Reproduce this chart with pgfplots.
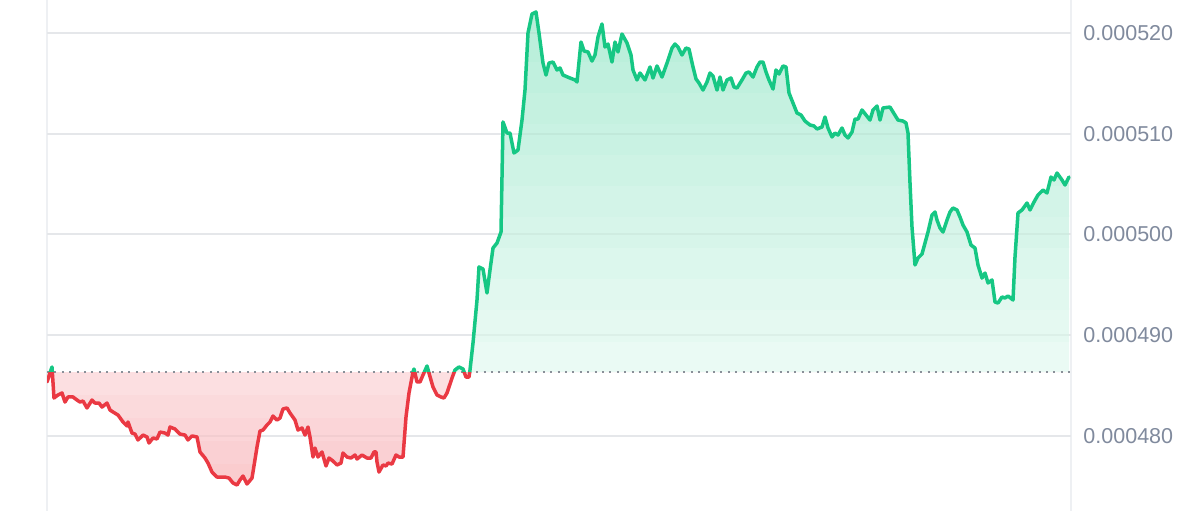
\documentclass[border=0pt]{standalone}
\usepackage{fontspec}
\setmainfont{Liberation Sans}
\usepackage{pgfplots}
\usepackage{pgfplotstable}
\pgfplotsset{compat=1.18}
\definecolor{cmcgreen}{HTML}{16C784}
\definecolor{cmcred}{HTML}{EA3943}
\definecolor{gridgray}{HTML}{EEF0F3}
\definecolor{labelgray}{HTML}{808A9D}
\definecolor{dotgray}{HTML}{8A9099}

\pgfplotstableread{
x y
0 485.35
5 486.84
7 483.76
11 484.06
15 484.26
18 483.36
21 483.86
26 483.86
30 483.56
33 483.36
36 483.46
40 482.77
45 483.56
48 483.26
52 483.26
55 482.86
60 483.26
63 482.57
66 482.37
71 482.07
76 481.38
80 480.98
81 481.38
85 480.28
88 480.18
91 479.59
96 480.08
100 479.89
102 479.29
106 479.79
110 479.69
113 480.38
118 480.28
121 480.08
123 480.88
128 480.68
133 480.18
138 480.08
141 479.59
145 479.99
150 479.89
153 478.40
158 477.80
161 477.30
165 476.41
170 475.91
178 475.91
182 475.81
186 475.32
190 475.12
193 475.62
196 476.01
200 475.22
205 475.81
206 476.41
210 478.89
213 480.48
216 480.58
220 481.08
223 481.38
226 481.97
230 481.57
233 481.77
236 482.67
240 482.77
243 482.27
248 481.57
251 480.58
255 480.78
258 480.08
261 480.88
263 479.89
266 477.90
268 478.79
271 477.90
275 478.40
279 477.01
282 477.80
286 477.50
290 477.11
294 477.30
296 478.30
300 477.90
304 477.80
308 478.10
310 477.70
315 478.10
320 477.80
324 477.80
327 478.40
329 478.40
330 477.40
332 476.41
336 477.11
339 477.01
341 477.30
345 477.20
349 478.10
352 477.90
356 477.90
359 481.87
362 484.26
366 486.34
367 486.64
370 485.35
373 485.35
376 486.04
380 486.94
382 486.24
386 484.85
390 484.06
394 483.86
397 483.76
400 484.26
405 485.74
408 486.54
412 486.84
416 486.64
419 485.84
422 485.84
423 486.54
426 489.22
430 493.49
432 496.77
436 496.57
440 494.19
443 496.47
446 498.65
450 499.15
454 500.24
456 511.17
460 510.07
463 510.07
467 508.09
471 508.38
475 511.36
478 514.34
481 520.00
485 521.89
489 522.09
492 520.00
496 517.02
499 515.83
502 517.02
506 517.12
510 516.33
513 516.53
516 515.83
523 515.53
528 515.34
530 515.14
534 519.11
537 518.22
541 518.12
545 517.22
548 517.82
551 519.61
555 520.90
558 518.61
561 518.91
565 517.12
568 519.11
571 518.12
575 519.90
580 519.01
584 517.82
586 516.33
590 515.34
593 516.03
598 515.34
603 516.63
606 515.53
610 516.73
615 515.63
620 517.02
625 518.51
628 518.91
631 518.61
635 517.82
639 518.51
642 518.41
646 516.63
649 515.44
652 515.04
656 514.34
660 515.14
663 516.03
666 515.73
670 514.34
673 515.63
676 514.34
680 515.34
684 515.53
687 514.64
690 514.54
695 515.34
699 516.03
702 516.13
706 515.63
710 516.63
713 517.12
716 517.12
719 516.13
722 515.34
726 514.44
729 516.33
732 515.93
736 516.73
739 516.63
742 514.05
746 513.05
750 512.06
754 511.86
758 511.26
763 510.87
767 510.77
770 510.47
775 510.67
778 511.66
781 510.57
785 509.68
788 510.07
791 509.87
795 510.57
798 509.87
801 509.58
805 510.17
808 511.46
811 511.46
815 512.36
819 511.86
823 511.36
826 512.36
830 512.75
833 511.36
836 512.56
843 512.65
846 512.16
851 511.36
856 511.26
859 511.07
861 510.07
863 505.11
865 500.74
868 496.97
871 497.66
875 498.06
878 499.15
881 500.24
885 501.93
888 502.23
890 501.43
893 500.64
896 500.24
900 501.43
903 502.23
906 502.63
910 502.43
913 501.73
916 500.94
920 500.24
924 498.95
928 498.65
931 496.97
935 495.67
938 496.17
941 495.18
945 495.48
948 493.29
951 493.19
955 493.79
958 493.69
961 493.89
966 493.49
968 497.76
971 502.13
975 502.43
980 503.12
983 502.43
987 503.22
991 503.92
996 504.41
1000 504.12
1004 505.70
1007 505.41
1010 506.10
1015 505.41
1018 504.91
1022 505.70
}\pricedata

% one horizontal band of the area between the price line and the baseline
\newcommand{\band}[3]{%
  \begin{scope}
  \clip (axis cs:-20,#1) rectangle (axis cs:1044,#2);
  \addplot[fill=#3, draw=none] table[x=x,y=y]{\pricedata}
    -- (axis cs:1022,486.34) -- (axis cs:0,486.34) -- cycle;
  \end{scope}}

\begin{document}
\begin{tikzpicture}
\begin{axis}[
  at={(0,0)}, anchor=south west,
  scale only axis, width=512bp, height=255.5bp,
  xmin=0, xmax=1024, ymin=472.54, ymax=523.28,
  axis line style={draw=none},
  xtick={0,1024}, xticklabels={},
  xmajorgrids, ymajorgrids,
  major grid style={gridgray, line width=1bp},
  ytick={480,490,500,510,520},
  yticklabels={0.000480,0.000490,0.000500,0.000510,0.000520},
  yticklabel pos=right,
  major tick length=0pt,
  tick style={draw=none},
  yticklabel style={anchor=west, inner sep=0pt, xshift=6bp, font=\fontsize{10.8}{13}\selectfont, text=labelgray},
  every axis plot post/.append style={forget plot},
]
% green gradient (strong at top, fading to the baseline)
\band{486.34}{489.52}{cmcgreen!9}
\band{489.42}{492.60}{cmcgreen!11}
\band{492.50}{495.68}{cmcgreen!13}
\band{495.58}{498.76}{cmcgreen!15}
\band{498.66}{501.84}{cmcgreen!17}
\band{501.74}{504.92}{cmcgreen!19}
\band{504.82}{508.00}{cmcgreen!21}
\band{507.90}{511.08}{cmcgreen!23}
\band{510.98}{514.16}{cmcgreen!25}
\band{514.06}{517.24}{cmcgreen!27}
\band{517.14}{520.32}{cmcgreen!29}
\band{520.22}{526.00}{cmcgreen!31}
% red gradient (light at the baseline, stronger below)
\band{483.94}{486.34}{cmcred!16}
\band{481.64}{484.04}{cmcred!18.5}
\band{479.34}{481.74}{cmcred!21}
\band{477.04}{479.44}{cmcred!23.5}
\band{474.74}{477.14}{cmcred!26}
\band{468.00}{474.84}{cmcred!28.5}
% grid lines showing faintly through the fill
\addplot[black, opacity=0.035, line width=1bp] coordinates {(0,490) (1024,490)};
\addplot[black, opacity=0.035, line width=1bp] coordinates {(0,500) (1024,500)};
\addplot[black, opacity=0.035, line width=1bp] coordinates {(0,510) (1024,510)};
\addplot[black, opacity=0.035, line width=1bp] coordinates {(0,520) (1024,520)};
\addplot[black, opacity=0.035, line width=1bp] coordinates {(0,480) (1024,480)};
% baseline
\addplot[dotgray, line width=1bp, dash pattern=on 1bp off 2.7bp] coordinates {(0,486.34) (1024,486.34)};
% price line: green above the baseline, red below
\begin{scope}
\clip (axis cs:-20,486.34) rectangle (axis cs:1044,530);
\addplot[cmcgreen, line width=1.75bp, line join=round, line cap=round] table[x=x,y=y]{\pricedata};
\end{scope}
\begin{scope}
\clip (axis cs:-20,465) rectangle (axis cs:1044,486.34);
\addplot[cmcred, line width=1.75bp, line join=round, line cap=round] table[x=x,y=y]{\pricedata};
\end{scope}
\end{axis}
\pgfresetboundingbox
\path (-23.5bp,0) rectangle (576.5bp,255.5bp);
\end{tikzpicture}
\end{document}
